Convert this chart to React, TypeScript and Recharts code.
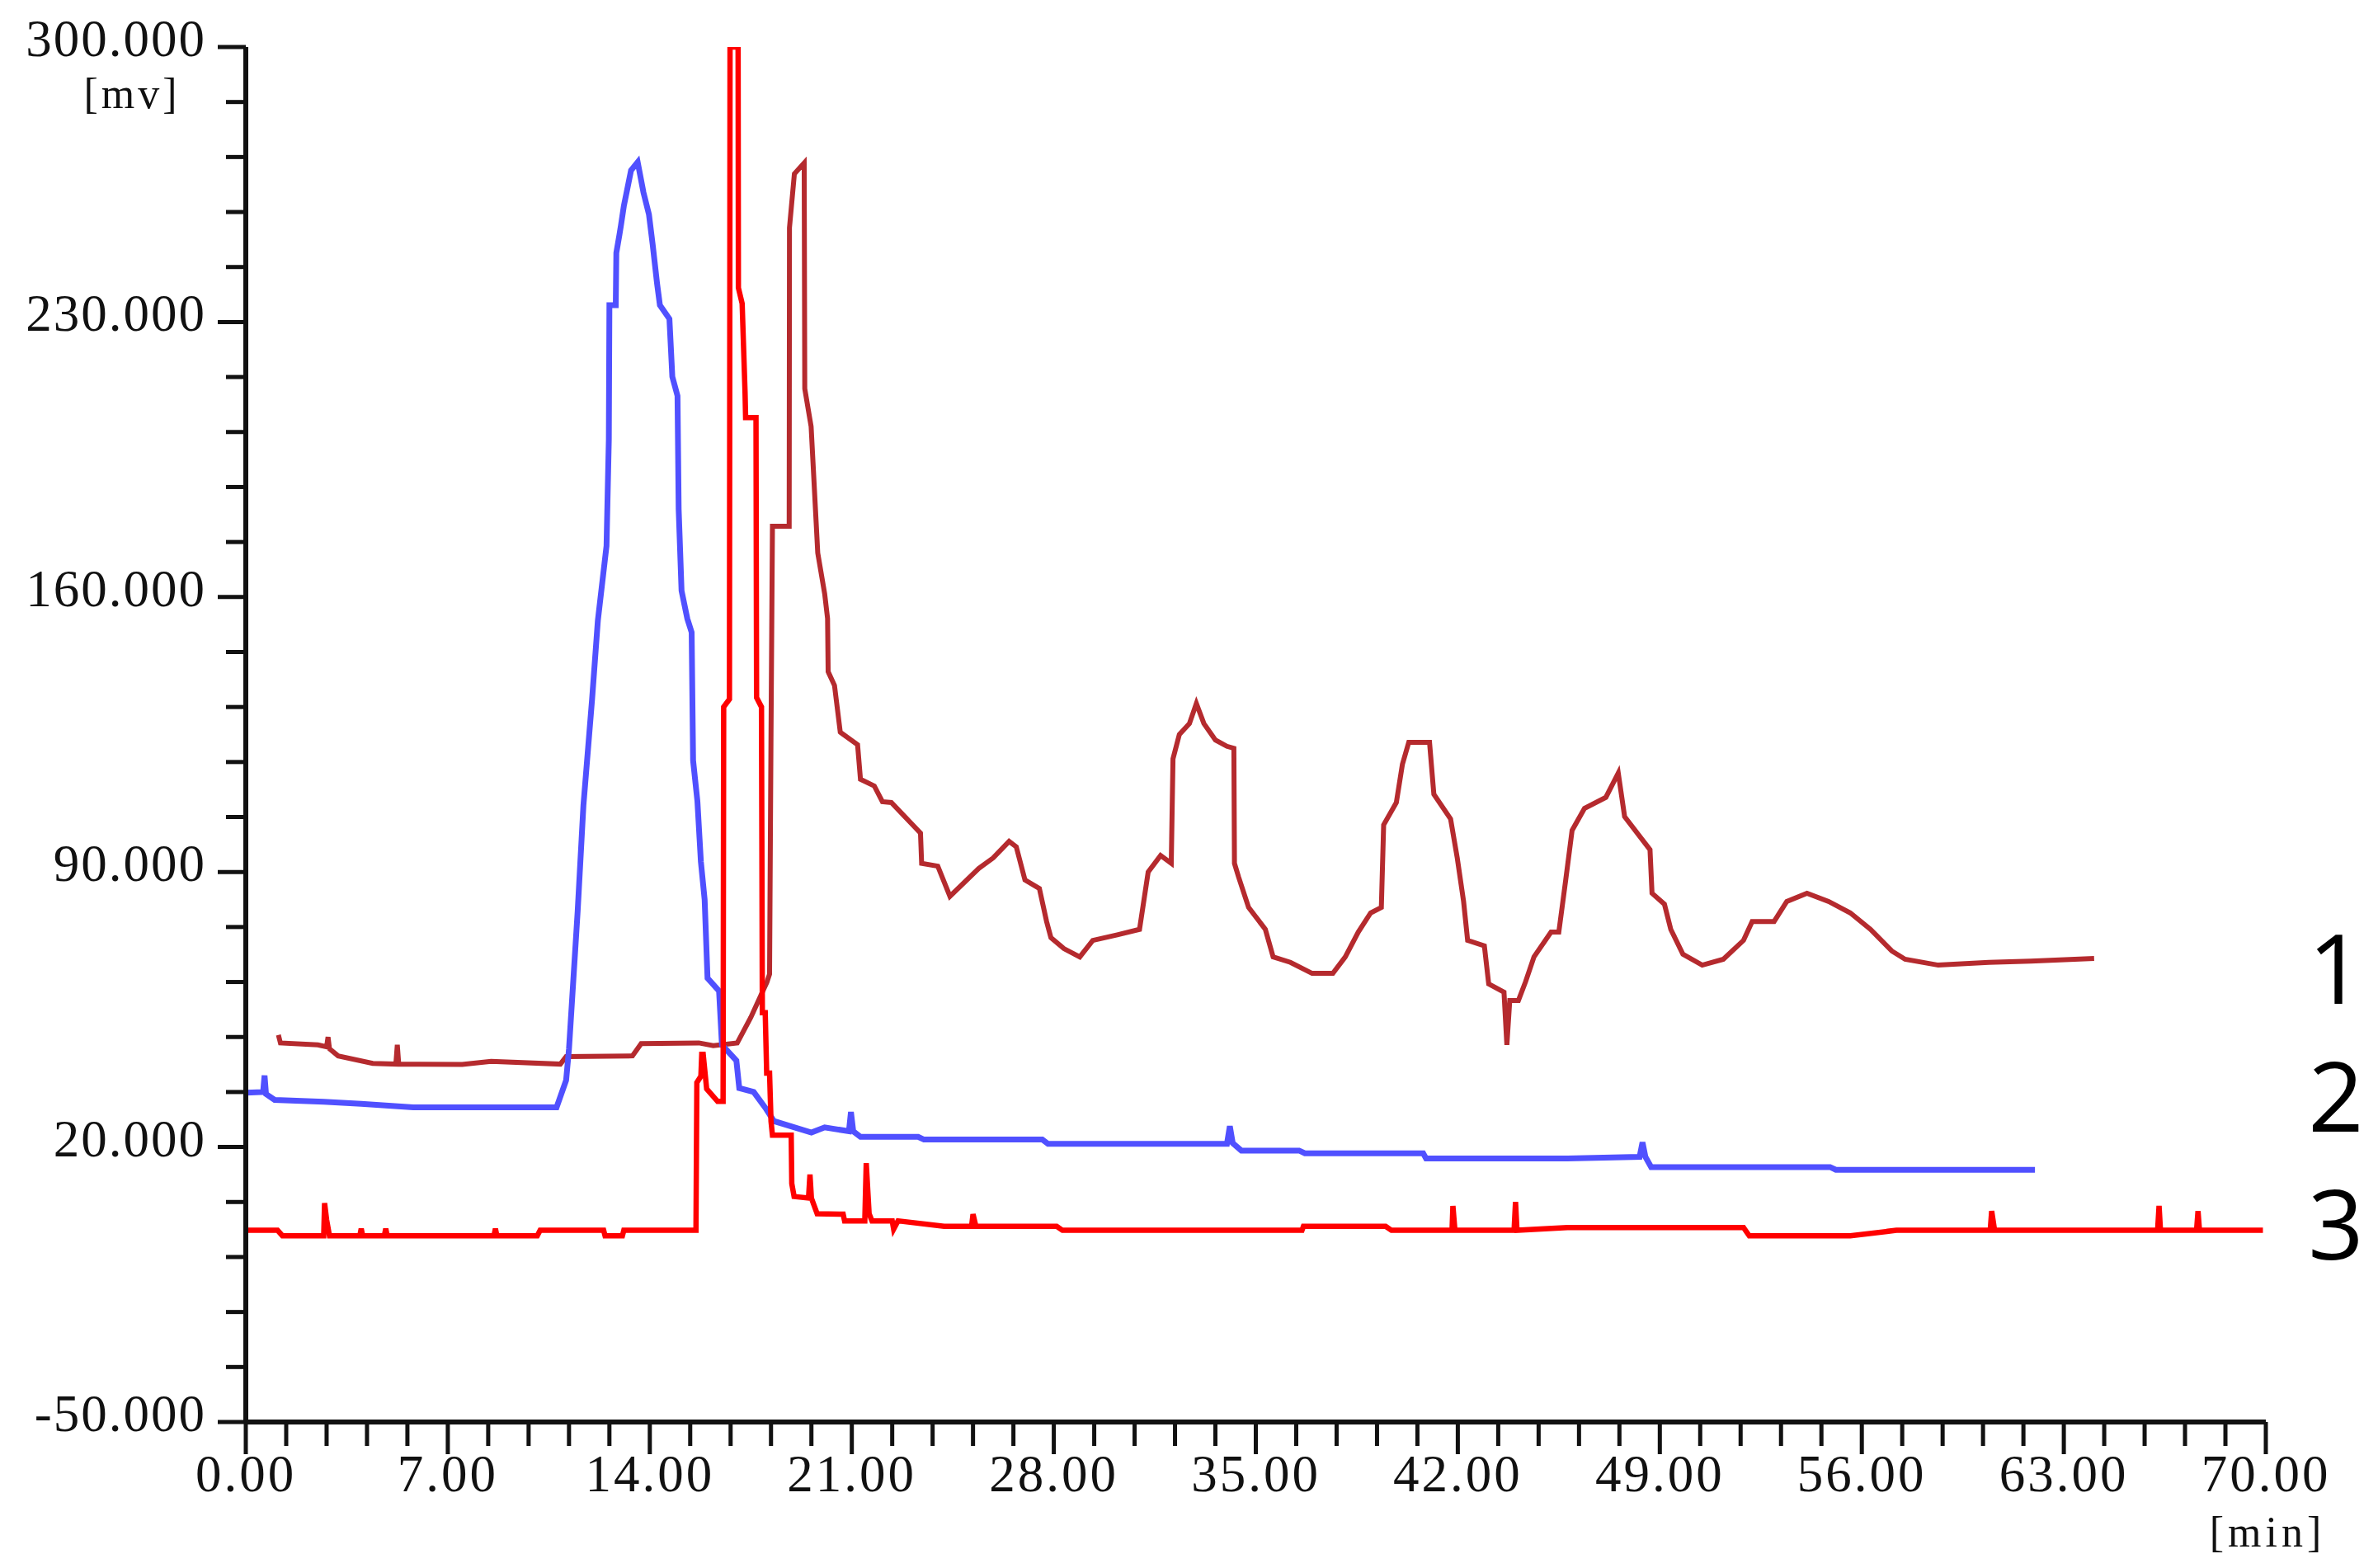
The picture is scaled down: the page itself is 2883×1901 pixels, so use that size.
import { Line, LineChart, XAxis, YAxis } from "recharts";

// [time (min), signal (mV)]
const trace1: [number, number][] = [
  [1.13, 48.5], [1.2, 46.5], [2.5, 46], [2.8, 45.5], [2.85, 48], [2.9, 45], [3.2, 43.2], [4.4, 41.3],
  [5.2, 41.1], [5.25, 46], [5.3, 41.1], [7.5, 41], [8.5, 41.8], [10.9, 41.1], [11.1, 43], [13.4, 43.2],
  [13.7, 46.3], [15.7, 46.5], [16.2, 45.8],
  [17.03, 46.5], [17.5, 53], [18.06, 62], [18.15, 64], [18.2, 125], [18.25, 178], [18.83, 178], [18.84, 254],
  [19.01, 267.7], [19.35, 270.5], [19.37, 213], [19.59, 203.4], [19.82, 171.2], [20.06, 160.8], [20.16, 154.5],
  [20.18, 141], [20.4, 137.5], [20.6, 125.6], [21.2, 122.4], [21.3, 113.6], [21.78, 111.9], [22.06, 107.9],
  [22.37, 107.7], [23.38, 99.9], [23.42, 92.2], [23.98, 91.5], [24.4, 83.8], [25.4, 90.9], [25.9, 93.6],
  [26.45, 97.8], [26.7, 96.4], [27.0, 88], [27.5, 85.8], [27.75, 77.4], [27.9, 73.3], [28.35, 70.5],
  [28.9, 68.4], [29.35, 72.6], [30.2, 74], [30.97, 75.4], [31.27, 90], [31.7, 94.2], [32.07, 92.2],
  [32.13, 118.8], [32.35, 125], [32.7, 127.8], [32.94, 132.9], [33.2, 127.8], [33.6, 123.6], [34.0, 122],
  [34.24, 121.5], [34.26, 92.2], [34.4, 88.8], [34.75, 81], [35.33, 75.4], [35.6, 68.4], [36.2, 67],
  [36.95, 64.2], [37.67, 64.2], [38.1, 68.4], [38.55, 74.7], [38.98, 79.6], [39.35, 81], [39.43, 102],
  [39.87, 107.7], [40.08, 117.4], [40.3, 123], [41.02, 123], [41.17, 109.8], [41.75, 103.5], [41.98, 93.6],
  [42.2, 82.5], [42.34, 72.6], [42.92, 71.2], [43.07, 61.5], [43.6, 59.4], [43.7, 46], [43.8, 57.3],
  [44.1, 57.3], [44.35, 62.1], [44.64, 68.4], [45.23, 74.7], [45.5, 74.7], [45.74, 88], [45.96, 100.6],
  [46.39, 106.2], [47.13, 109], [47.56, 115.2], [47.78, 104.1], [48.5, 97.2], [48.66, 95.7], [48.73, 84.6],
  [49.16, 81.8], [49.38, 75.4], [49.8, 69.1], [50.47, 66.3], [51.2, 67.8], [51.9, 72.6], [52.2, 77.4],
  [52.96, 77.4], [53.4, 82.5], [54.1, 84.6], [54.85, 82.5], [55.6, 79.6], [56.3, 75.4], [57.04, 69.9],
  [57.5, 67.8], [58.65, 66.3], [60.4, 67], [61.85, 67.3], [64.05, 68],
];

const trace2: [number, number][] = [
  [0, 33.8], [0.6, 34], [0.65, 38.2], [0.7, 33.5], [1.0, 32], [2.7, 31.5], [4.0, 31], [5.8, 30.1],
  [10.77, 30.1], [11.1, 37], [11.2, 45], [11.5, 80], [11.7, 107], [12.0, 134], [12.2, 154], [12.5, 173],
  [12.58, 200], [12.6, 234.3], [12.82, 234.3], [12.84, 247.6], [12.95, 252.3], [13.0, 254.6], [13.1, 259.5],
  [13.35, 268.6], [13.58, 270.7], [13.78, 263], [13.97, 257.4], [14.1, 249.7], [14.25, 239.9], [14.35, 234.3],
  [14.68, 230.8], [14.78, 216.1], [14.96, 211.2], [15.0, 182.4], [15.1, 161.6], [15.3, 154.5], [15.45, 151],
  [15.5, 118.4], [15.65, 108], [15.77, 92.6], [15.9, 83], [16.0, 63], [16.4, 59.7], [16.5, 46], [17.0, 42],
  [17.1, 35], [17.6, 34], [18.0, 30], [18.3, 26.6], [19.6, 23.7], [20.06, 25], [20.9, 24], [20.97, 28.9],
  [21.05, 24], [21.3, 22.6], [23.3, 22.6], [23.5, 21.9], [27.6, 21.9], [27.8, 20.8], [34.0, 20.8],
  [34.1, 25.3], [34.2, 21], [34.5, 19.1], [36.5, 19.1], [36.7, 18.4], [40.8, 18.4], [40.9, 17.1],
  [45.8, 17.1], [48.3, 17.5], [48.4, 21.2], [48.5, 17.5], [48.7, 14.9], [54.9, 14.9], [55.1, 14.2], [62.0, 14.2],
];

const trace3: [number, number][] = [
  [0, -1.2], [1.1, -1.2], [1.27, -2.6], [2.7, -2.6], [2.73, 5.7], [2.8, 1.5], [2.9, -2.6], [3.95, -2.6],
  [4.0, -0.8], [4.05, -2.6], [4.8, -2.6], [4.85, -0.8], [4.9, -2.6], [8.6, -2.6], [8.65, -0.8], [8.7, -2.6],
  [10.1, -2.6], [10.2, -1.2], [12.4, -1.2], [12.45, -2.6], [13.05, -2.6], [13.1, -1.2], [15.6, -1.2],
  [15.63, 36.4], [15.77, 38], [15.8, 43.6], [15.85, 43.6], [15.97, 34.8], [16.35, 31.6], [16.54, 31.6],
  [16.56, 132], [16.76, 134], [16.78, 300], [17.06, 300], [17.07, 238.7], [17.2, 234.7], [17.3, 212.2],
  [17.32, 205.7], [17.68, 205.7], [17.7, 134.4], [17.87, 132], [17.9, 54.2], [18.0, 54.2], [18.05, 38.8],
  [18.15, 38.8], [18.2, 26.6], [18.25, 23], [18.9, 23], [18.92, 10.7], [19.0, 7.4], [19.5, 7], [19.55, 13],
  [19.6, 7], [19.8, 3], [20.7, 2.9], [20.75, 1.2], [21.45, 1.2], [21.5, 15.9], [21.6, 3], [21.7, 1.2],
  [22.4, 1.2], [22.45, -0.9], [22.6, 1.2], [24.2, -0.2], [25.15, -0.2], [25.2, 2.9], [25.3, -0.2],
  [28.1, -0.2], [28.3, -1.2], [36.6, -1.2], [36.65, -0.2], [39.5, -0.2], [39.7, -1.2], [41.8, -1.2],
  [41.83, 5], [41.9, -1.2], [43.95, -1.2], [44.0, 6], [44.05, -1.2], [45.8, -0.5], [51.9, -0.5],
  [52.1, -2.6], [55.6, -2.6], [57.2, -1.2], [60.45, -1.2], [60.5, 3.7], [60.6, -1.2], [66.25, -1.2],
  [66.3, 5], [66.35, -1.2], [67.6, -1.2], [67.65, 3.7], [67.7, -1.2], [69.9, -1.2],
];

const timeLabels = [0, 7, 14, 21, 28, 35, 42, 49, 56, 63, 70];
const signalLabels = [-50, 20, 90, 160, 230, 300];
const traceNames = ["1", "2", "3"];

// minor ticks: five divisions between labelled ticks
const timeTicks = Array.from({ length: 51 }, (_, i) => Math.round(i * 140) / 100);
const signalTicks = Array.from({ length: 26 }, (_, i) => -50 + i * 14);

const toPoints = (pairs: [number, number][]) => pairs.map(([t, v]) => ({ t, v }));

const serif = "'Liberation Serif', 'Times New Roman', serif";
const ink = "#111";

function TimeTick({ x, y, payload }: any) {
  const value: number = payload.value;
  const major = timeLabels.some((m) => Math.abs(m - value) < 1e-6);
  return (
    <g>
      <line x1={x} x2={x} y1={y} y2={y + (major ? 39 : 29)} stroke={ink} strokeWidth={5} />
      {major && (
        <text x={x} y={y + 84} textAnchor="middle" fontFamily={serif} fontSize={63} letterSpacing={3} fill={ink}>
          {value.toFixed(2)}
        </text>
      )}
    </g>
  );
}

function SignalTick({ x, y, payload }: any) {
  const value: number = payload.value;
  const major = signalLabels.includes(value);
  return (
    <g>
      <line x1={x - (major ? 34 : 24)} x2={x} y1={y} y2={y} stroke={ink} strokeWidth={5} />
      {major && (
        <text x={x - 48} y={y + 11} textAnchor="end" fontFamily={serif} fontSize={63} letterSpacing={2} fill={ink}>
          {value.toFixed(3)}
        </text>
      )}
    </g>
  );
}

export default function App() {
  return (
    <div style={{ position: "absolute", left: 0, top: 0, width: 2883, height: 1901, background: "#fff" }}>
      <LineChart width={2883} height={1901} margin={{ top: 57, right: 136, bottom: 7, left: 8 }}>
        <XAxis
          dataKey="t"
          type="number"
          domain={[0, 70]}
          ticks={timeTicks}
          interval={0}
          allowDataOverflow
          height={170}
          tickSize={0}
          tickMargin={0}
          tickLine={false}
          axisLine={{ stroke: ink, strokeWidth: 6 }}
          tick={<TimeTick />}
        />
        <YAxis
          type="number"
          domain={[-50, 300]}
          ticks={signalTicks}
          interval={0}
          allowDataOverflow
          width={290}
          tickSize={0}
          tickMargin={0}
          tickLine={false}
          axisLine={{ stroke: ink, strokeWidth: 6 }}
          tick={<SignalTick />}
        />
        <Line data={toPoints(trace1)} dataKey="v" name={traceNames[0]} stroke="#b52a2e" strokeWidth={6} dot={false} isAnimationActive={false} />
        <Line data={toPoints(trace2)} dataKey="v" name={traceNames[1]} stroke="#5050ff" strokeWidth={7} dot={false} isAnimationActive={false} />
        <Line data={toPoints(trace3)} dataKey="v" name={traceNames[2]} stroke="#ff0000" strokeWidth={6.5} dot={false} isAnimationActive={false} />
      </LineChart>
      <svg width={2883} height={1901} style={{ position: "absolute", left: 0, top: 0, pointerEvents: "none" }}>
        <text x={160} y={131} textAnchor="middle" fontFamily={serif} fontSize={52} letterSpacing={4} fill={ink}>[mv]</text>
        <text x={2749} y={1875} textAnchor="middle" fontFamily={serif} fontSize={52} letterSpacing={5} fill={ink}>[min]</text>
        {traceNames.map((name, i) => (
          <text key={name} x={2832} y={1217 + i * 155} textAnchor="middle" fontFamily="'Open Sans', 'Noto Sans', sans-serif" fontSize={118} fill="#000">
            {name}
          </text>
        ))}
      </svg>
    </div>
  );
}
